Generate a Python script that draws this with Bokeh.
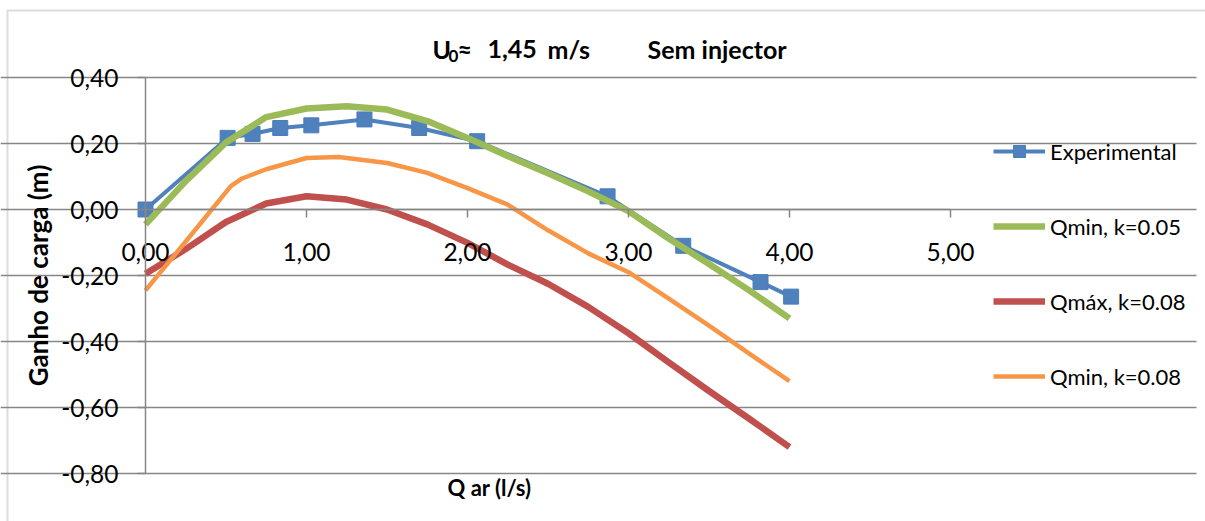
from bokeh.plotting import figure
from bokeh.models import (Range1d, Legend, LegendItem, Label, PolyAnnotation, BoxAnnotation,
                          FixedTicker, CustomJSTickFormatter)
from bokeh.embed import file_html
from bokeh.resources import INLINE

# Measured head gain versus air flow
exp_q = [0.0, 0.51, 0.665, 0.837, 1.03, 1.36, 1.70, 2.06, 2.87, 3.34, 3.82, 4.01]
exp_h = [0.0, 0.217, 0.229, 0.247, 0.255, 0.273, 0.247, 0.207, 0.04, -0.11, -0.22, -0.264]

# Model: Qmin, k=0.05
qmin05_q = [0, 0.25, 0.5, 0.75, 1.0, 1.25, 1.5, 1.75, 2.0, 2.25, 2.5, 2.75, 3.0, 3.25, 3.5, 3.75, 4.0]
qmin05_h = [-0.045, 0.086, 0.203, 0.28, 0.306, 0.313, 0.303, 0.268, 0.217, 0.162, 0.11, 0.055,
            -0.005, -0.088, -0.165, -0.245, -0.33]

# Model: Qmáx, k=0.08
qmax08_q = [0, 0.25, 0.5, 0.75, 1.0, 1.25, 1.5, 1.75, 2.0, 2.25, 2.5, 2.75, 3.0, 3.25, 3.5, 3.75, 4.0]
qmax08_h = [-0.195, -0.12, -0.038, 0.018, 0.040, 0.030, 0.0, -0.045, -0.101, -0.167, -0.225, -0.295,
            -0.375, -0.463, -0.55, -0.634, -0.72]

# Model: Qmin, k=0.08
qmin08_q = [0, 0.25, 0.53, 0.6, 0.75, 1.0, 1.2, 1.5, 1.75, 2.0, 2.25, 2.5, 2.75, 3.0, 3.25, 3.5, 3.75, 4.0]
qmin08_h = [-0.245, -0.097, 0.071, 0.094, 0.122, 0.156, 0.159, 0.141, 0.111, 0.065, 0.015, -0.063,
            -0.133, -0.19, -0.27, -0.352, -0.437, -0.52]

series_names = ["Experimental", "Qmin, k=0.05", "Qmáx, k=0.08", "Qmin, k=0.08"]

x_ticks = [0, 1, 2, 3, 4, 5]
x_tick_labels = ["0,00", "1,00", "2,00", "3,00", "4,00", "5,00"]
y_ticks = [-0.8, -0.6, -0.4, -0.2, 0.0, 0.2, 0.4]
y_tick_labels = ["-0,80", "-0,60", "-0,40", "-0,20", "0,00", "0,20", "0,40"]

FONT = "Lato"
GREY = "#868686"
TXT = "#000000"
W, H = 1205, 521

# The plotting frame spans the whole canvas; the value window 0..5 x -0.8..0.4
# sits at pixels 145..950 x 77..473, so the ranges are widened around it.
PX_X = 161.0    # pixels per l/s
PX_Y = 330.0    # pixels per metre
x_lo = -145 / PX_X
x_hi = (W - 145) / PX_X
y_hi = 0.4 + 77 / PX_Y
y_lo = -0.8 - (H - 473) / PX_Y

p = figure(width=W, height=H, output_backend="svg", toolbar_location=None, tools="",
           x_range=Range1d(x_lo, x_hi), y_range=Range1d(y_lo, y_hi),
           min_border=0, min_border_left=0, min_border_right=0,
           min_border_top=0, min_border_bottom=0)
p.outline_line_color = None
p.background_fill_color = "white"
p.border_fill_color = "white"

pick_label = """
let best = 0;
for (let i = 1; i < tvals.length; i++) {
  if (Math.abs(tvals[i] - tick) < Math.abs(tvals[best] - tick)) best = i;
}
return tlabels[best];
"""

# x axis crosses at zero
xa = p.xaxis[0]
xa.fixed_location = 0
xa.bounds = (0, 5)
xa.ticker = FixedTicker(ticks=x_ticks)
xa.formatter = CustomJSTickFormatter(args=dict(tvals=x_ticks, tlabels=x_tick_labels), code=pick_label)
xa.axis_line_color = GREY
xa.axis_line_width = 1.5
xa.major_tick_line_color = GREY
xa.major_tick_line_width = 1.5
xa.major_tick_out = 8
xa.major_tick_in = 0
xa.minor_tick_line_color = None
xa.major_label_standoff = 25
xa.major_label_text_font = FONT
xa.major_label_text_font_size = "24.5px"
xa.major_label_text_color = TXT

# y axis at q = 0
ya = p.yaxis[0]
ya.fixed_location = 0
ya.bounds = (-0.8, 0.4)
ya.ticker = FixedTicker(ticks=y_ticks)
ya.formatter = CustomJSTickFormatter(args=dict(tvals=y_ticks, tlabels=y_tick_labels), code=pick_label)
ya.axis_line_color = GREY
ya.axis_line_width = 1.5
ya.major_tick_line_color = GREY
ya.major_tick_line_width = 1.5
ya.major_tick_out = 8
ya.major_tick_in = 0
ya.minor_tick_line_color = None
ya.major_label_standoff = 19
ya.major_label_text_font = FONT
ya.major_label_text_font_size = "24.5px"
ya.major_label_text_color = TXT
ya.axis_label = "Ganho de carga (m)"
ya.axis_label_text_font = FONT
ya.axis_label_text_font_style = "bold"
ya.axis_label_text_font_size = "26px"
ya.axis_label_text_color = TXT
ya.axis_label_standoff = 4

p.xgrid.visible = False
p.ygrid.ticker = FixedTicker(ticks=y_ticks)
p.ygrid.bounds = (0, 5)
p.ygrid.grid_line_color = GREY
p.ygrid.grid_line_width = 1.5

# Series
r_exp_line = p.line(exp_q, exp_h, line_color="#4F81BD", line_width=4)
r_exp_pts = p.scatter(exp_q, exp_h, marker="square", size=15, fill_color="#4F81BD",
                      line_color="#4A7EBB", line_width=1)
r_g = p.line(qmin05_q, qmin05_h, line_color="#9BBB59", line_width=6.5, line_join="round")
r_r = p.line(qmax08_q, qmax08_h, line_color="#C0504D", line_width=6.5, line_join="round")
r_o = p.line(qmin08_q, qmin08_h, line_color="#F79646", line_width=4.5, line_join="round")

# Legend to the right of the plot area; location is its bottom-left corner
legend = Legend(items=[
    LegendItem(label=series_names[0], renderers=[r_exp_line, r_exp_pts]),
    LegendItem(label=series_names[1], renderers=[r_g]),
    LegendItem(label=series_names[2], renderers=[r_r]),
    LegendItem(label=series_names[3], renderers=[r_o]),
], location=(993, H - 391))
legend.border_line_color = None
legend.background_fill_alpha = 0
legend.padding = 0
legend.margin = 0
legend.spacing = 45
legend.glyph_width = 52
legend.glyph_height = 30
legend.label_height = 30
legend.label_standoff = 5
legend.label_text_font = FONT
legend.label_text_font_size = "22px"
legend.label_text_color = TXT
legend.label_text_baseline = "middle"
p.add_layout(legend)

# Chart title, built from pieces for the subscript (screen units, y upwards)
title_style = dict(x_units="screen", y_units="screen", text_font=FONT, text_font_style="bold",
                   text_color=TXT, text_baseline="middle", text_align="left")
p.add_layout(Label(x=432, y=H - 48, text="U", text_font_size="25px", **title_style))
p.add_layout(Label(x=448, y=H - 55, text="0", text_font_size="17px", **title_style))
p.add_layout(Label(x=457, y=H - 48, text="≈", text_font_size="25px", **title_style))
p.add_layout(Label(x=487, y=H - 48, text="1,45", text_font_size="25px", **title_style))
p.add_layout(Label(x=547, y=H - 48, text="m/s", text_font_size="25px", **title_style))
p.add_layout(Label(x=647, y=H - 48, text="Sem injector", text_font_size="25px", **title_style))

# x axis title under the plot
p.add_layout(Label(x=489, y=H - 487, text="Q ar (l/s)", x_units="screen", y_units="screen",
                   text_font=FONT, text_font_style="bold", text_font_size="22px", text_color=TXT,
                   text_align="center", text_baseline="middle"))

# Keep the strip along the right edge clean
p.add_layout(BoxAnnotation(left=W - 9, right=W + 5, top=-5, bottom=H + 5,
                           left_units="canvas", right_units="canvas",
                           top_units="canvas", bottom_units="canvas",
                           fill_color="white", fill_alpha=1, line_color=None, level="overlay"))

# Chart area border: only its left and top edges fall inside the canvas
bx0 = x_lo + 7 / PX_X
by0 = y_hi - 10 / PX_Y
p.add_layout(PolyAnnotation(xs=[bx0, x_hi + 1, x_hi + 1, bx0], ys=[by0, by0, y_lo - 1, y_lo - 1],
                            fill_alpha=0, line_color="#8a8a8a", line_width=2, level="overlay"))

open("out.html", "w").write(file_html(p, INLINE))
